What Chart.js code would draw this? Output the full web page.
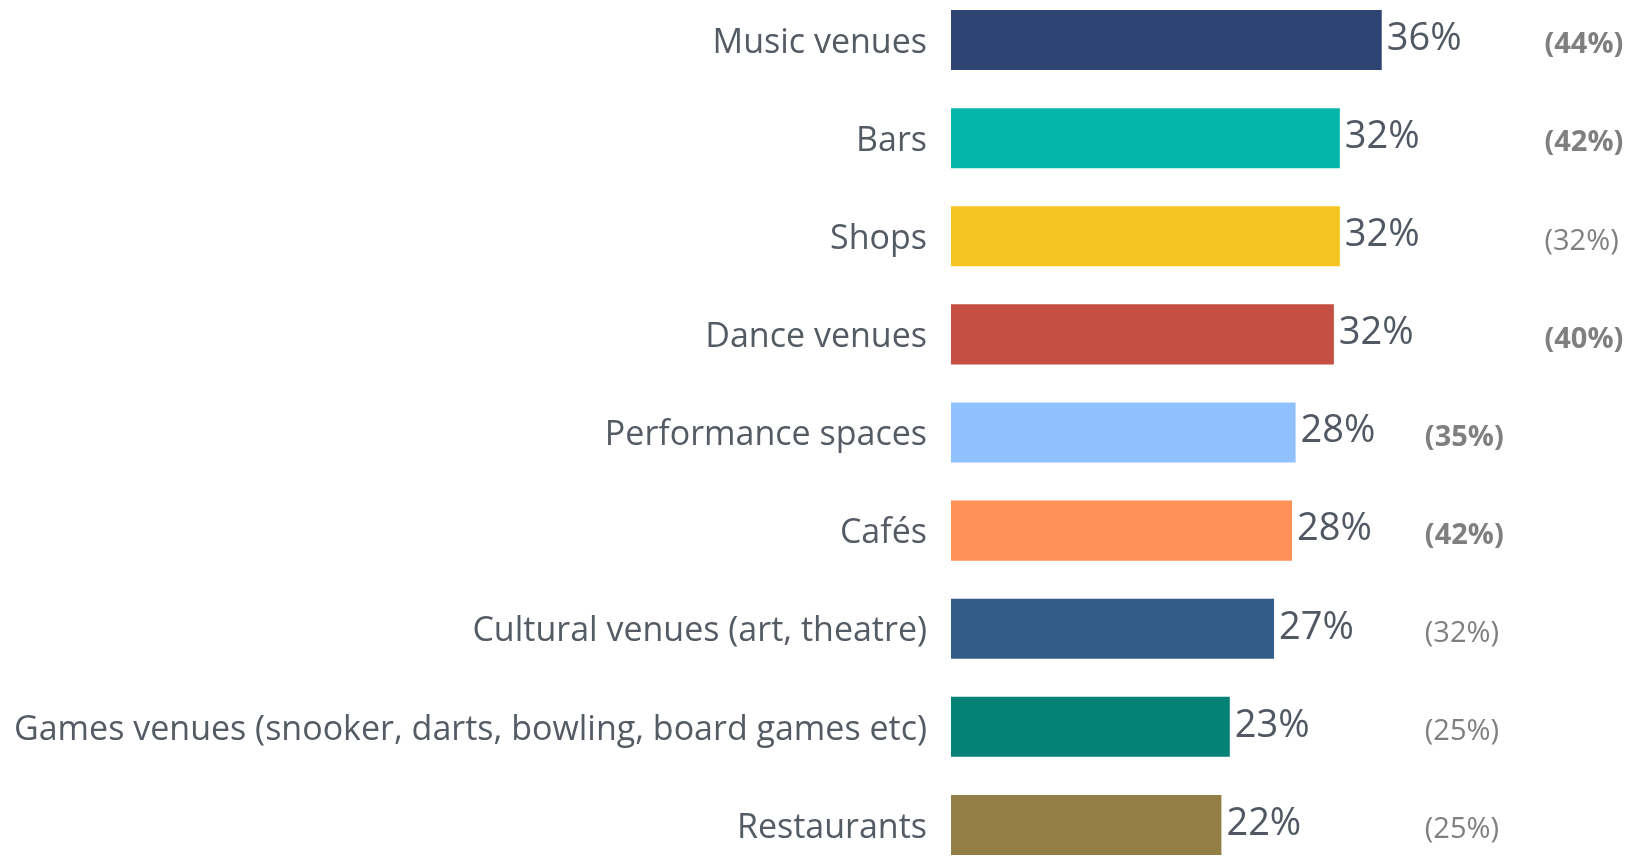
<!DOCTYPE html>
<html>
<head>
<meta charset="utf-8">
<script src="https://cdn.jsdelivr.net/npm/chart.js@4/dist/chart.umd.min.js"></script>
<style>
    html, body { margin: 0; padding: 0; background: #fff; overflow: hidden; }
    #chart { position: absolute; left: 0; top: -9px; }
</style>
</head>
<body>
<canvas id="chart" width="1627" height="883"></canvas>
<script>
// Data
const categories = ['Music venues', 'Bars', 'Shops', 'Dance venues', 'Performance spaces', 'Cafés',
    'Cultural venues (art, theatre)', 'Games venues (snooker, darts, bowling, board games etc)', 'Restaurants'];
const values = [36, 32.5, 32.5, 32.0, 28.8, 28.5, 27.0, 23.3, 22.6];
const valueLabels = ['36%', '32%', '32%', '32%', '28%', '28%', '27%', '23%', '22%'];
const compareLabels = ['(44%)', '(42%)', '(32%)', '(40%)', '(35%)', '(42%)', '(32%)', '(25%)', '(25%)'];
const compareBold = [true, true, false, true, true, true, false, false, false];
const barColors = ['#2e4472', '#05b5ab', '#f5c421', '#c44f42', '#8fc1ff', '#ff9159', '#325d8a', '#058176', '#937e45'];

const FONT = "'Open Sans', sans-serif";

// value labels next to bars + comparison column on the right
const labelPlugin = {
    id: 'barLabels',
    afterDatasetsDraw: function (chart)
    {
        const ctx = chart.ctx;
        const meta = chart.getDatasetMeta(0);
        const xScale = chart.scales.x;
        ctx.save();
        meta.data.forEach(function (bar, i) {
            ctx.textBaseline = 'middle';
            ctx.textAlign = 'left';
            ctx.font = '38px ' + FONT;
            ctx.fillStyle = '#525863';
            ctx.fillText(valueLabels[i], bar.x + 5, bar.y - 1);

            const colX = i < 4 ? xScale.getPixelForValue(49.6) : xScale.getPixelForValue(39.6);
            ctx.font = (compareBold[i] ? 'bold ' : '') + '29px ' + FONT;
            ctx.fillStyle = '#7f7f7f';
            ctx.fillText(compareLabels[i], colX, bar.y + 5);
        });
        ctx.restore();
    }
};

new Chart(document.getElementById('chart').getContext('2d'), {
    type: 'bar',
    data: {
        labels: categories,
        datasets: [{
            data: values,
            backgroundColor: barColors,
            borderWidth: 0,
            barPercentage: 0.612,
            categoryPercentage: 1
        }]
    },
    options: {
        indexAxis: 'y',
        responsive: false,
        animation: false,
        layout: { padding: 0 },
        plugins: {
            legend: { display: false },
            tooltip: { enabled: false }
        },
        scales: {
            x: {
                display: false,
                min: 0,
                max: 56.5
            },
            y: {
                grid: { display: false },
                border: { display: false },
                ticks: {
                    color: '#555b65',
                    font: { family: FONT, size: 34 },
                    padding: 16,
                    labelOffset: 3
                },
                afterFit: function (scale) {
                    scale.width = 951;
                    scale.paddingTop = 0;
                    scale.paddingBottom = 0;
                }
            }
        }
    },
    plugins: [labelPlugin]
});
</script>
</body>
</html>
